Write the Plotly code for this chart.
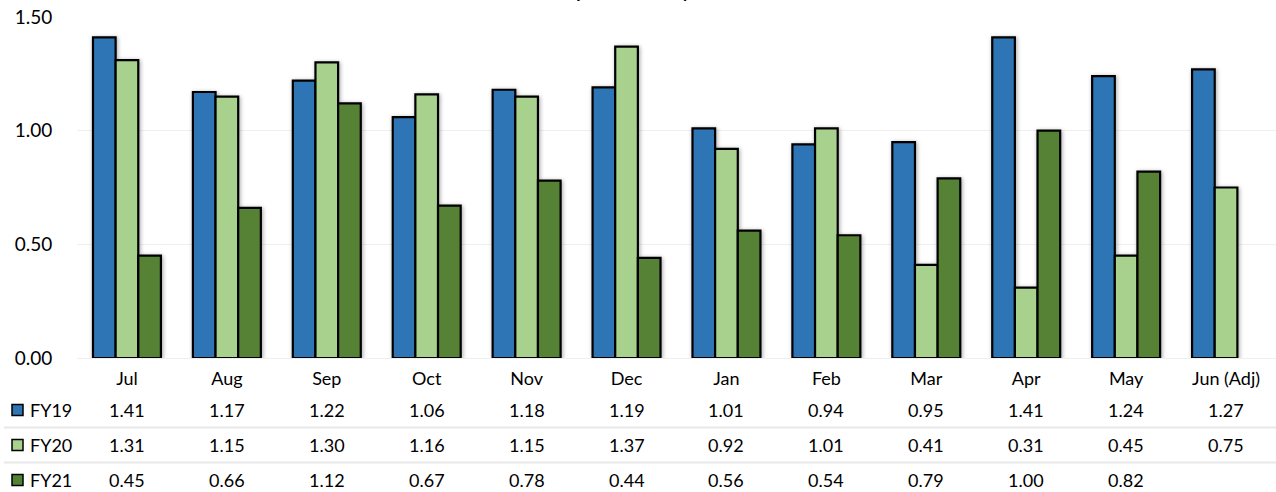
import plotly.graph_objects as go

# Monthly values by fiscal year
months = ["Jul", "Aug", "Sep", "Oct", "Nov", "Dec", "Jan", "Feb", "Mar", "Apr", "May", "Jun (Adj)"]
fy19 = [1.41, 1.17, 1.22, 1.06, 1.18, 1.19, 1.01, 0.94, 0.95, 1.41, 1.24, 1.27]
fy20 = [1.31, 1.15, 1.30, 1.16, 1.15, 1.37, 0.92, 1.01, 0.41, 0.31, 0.45, 0.75]
fy21 = [0.45, 0.66, 1.12, 0.67, 0.78, 0.44, 0.56, 0.54, 0.79, 1.00, 0.82, None]
series_names = ["FY19", "FY20", "FY21"]
y_ticks = [0.0, 0.5, 1.0, 1.5]
title_text = "Expense Ratio by Month"

colors = ["#2E75B6", "#A9D18E", "#548235"]
FONT = "Lato"
W, H = 1276, 492
ML, MT, MB = 77, 17, 134
PW, PH = W - ML, H - MT - MB


def px_to_paper_y(py):
    return (H - MB - py) / PH


def px_to_paper_x(px):
    return (px - ML) / PW


fig = go.Figure()
for name, vals, col in zip(series_names, [fy19, fy20, fy21], colors):
    fig.add_trace(go.Bar(
        x=months, y=vals, name=name,
        marker=dict(color=col, line=dict(color="#000000", width=2.2)),
        showlegend=False,
    ))

# Data table under the chart
row_y = [410, 445, 480]
annotations = []
shapes = []
for (name, vals, col, py) in zip(series_names, [fy19, fy20, fy21], colors, row_y):
    yp = px_to_paper_y(py)
    annotations.append(dict(
        x=px_to_paper_x(28), y=yp, xref="paper", yref="paper",
        text=name, showarrow=False, xanchor="left", yanchor="middle",
        font=dict(family=FONT, size=18, color="#000000"),
    ))
    shapes.append(dict(
        type="rect", xref="paper", yref="paper",
        x0=px_to_paper_x(12), x1=px_to_paper_x(23),
        y0=px_to_paper_y(py + 5.5), y1=px_to_paper_y(py - 5.5),
        fillcolor=col, line=dict(color="#000000", width=1.5),
    ))
    for m, v in zip(months, vals):
        if v is None:
            continue
        annotations.append(dict(
            x=m, y=yp, xref="x", yref="paper",
            text=f"{v:.2f}", showarrow=False, xanchor="center", yanchor="middle",
            font=dict(family=FONT, size=18, color="#000000"),
        ))

for py in [427.5, 462.5]:
    shapes.append(dict(
        type="line", xref="paper", yref="paper",
        x0=px_to_paper_x(4), x1=px_to_paper_x(1276),
        y0=px_to_paper_y(py), y1=px_to_paper_y(py),
        line=dict(color="#e8e8e8", width=2),
    ))

# Chart title (sits above the plot area, mostly beyond the top edge)
annotations.append(dict(
    x=px_to_paper_x(555), y=px_to_paper_y(4), xref="paper", yref="paper",
    text=f"<b>{title_text}</b>", showarrow=False, xanchor="left", yanchor="bottom",
    font=dict(family=FONT, size=17.5, color="#000000"),
))

fig.update_layout(
    width=W, height=H,
    margin=dict(l=ML, r=0, t=MT, b=MB),
    paper_bgcolor="#ffffff", plot_bgcolor="#ffffff",
    barmode="group", bargap=0.32, bargroupgap=0,
    font=dict(family=FONT, size=18, color="#000000"),
    annotations=annotations, shapes=shapes,
)
fig.update_xaxes(
    type="category", range=[-0.5, 11.5], showgrid=False, showline=False,
    ticks="outside", ticklen=4, tickcolor="rgba(0,0,0,0)",
    tickfont=dict(family=FONT, size=18, color="#000000"),
)
fig.update_yaxes(
    range=[0, 1.5], tickvals=y_ticks, ticktext=[f"{t:.2f}" for t in y_ticks],
    showgrid=True, gridcolor="#efefef", gridwidth=1,
    zeroline=True, zerolinecolor="#efefef", zerolinewidth=1,
    showline=False, ticks="outside", ticklen=20, tickcolor="rgba(0,0,0,0)",
    tickfont=dict(family=FONT, size=19, color="#000000"),
)

# Soft drop shadow behind the bars
shadow_js = """
var gd = document.getElementById('{plot_id}');
function addShadow() {
  var svg = gd.querySelector('svg.main-svg');
  var ns = 'http://www.w3.org/2000/svg';
  var defs = svg.querySelector('defs');
  if (!svg.querySelector('#barshadow')) {
    var f = document.createElementNS(ns, 'filter');
    f.setAttribute('id', 'barshadow');
    f.setAttribute('x', '-20%'); f.setAttribute('y', '-10%');
    f.setAttribute('width', '140%'); f.setAttribute('height', '120%');
    var ds = document.createElementNS(ns, 'feDropShadow');
    ds.setAttribute('dx', '1'); ds.setAttribute('dy', '1');
    ds.setAttribute('stdDeviation', '2');
    ds.setAttribute('flood-color', '#000000');
    ds.setAttribute('flood-opacity', '0.35');
    f.appendChild(ds);
    defs.appendChild(f);
  }
  gd.querySelectorAll('g.barlayer').forEach(function (g) {
    g.setAttribute('filter', 'url(#barshadow)');
  });
}
addShadow();
"""

fig.write_html("out.html", post_script=shadow_js)
